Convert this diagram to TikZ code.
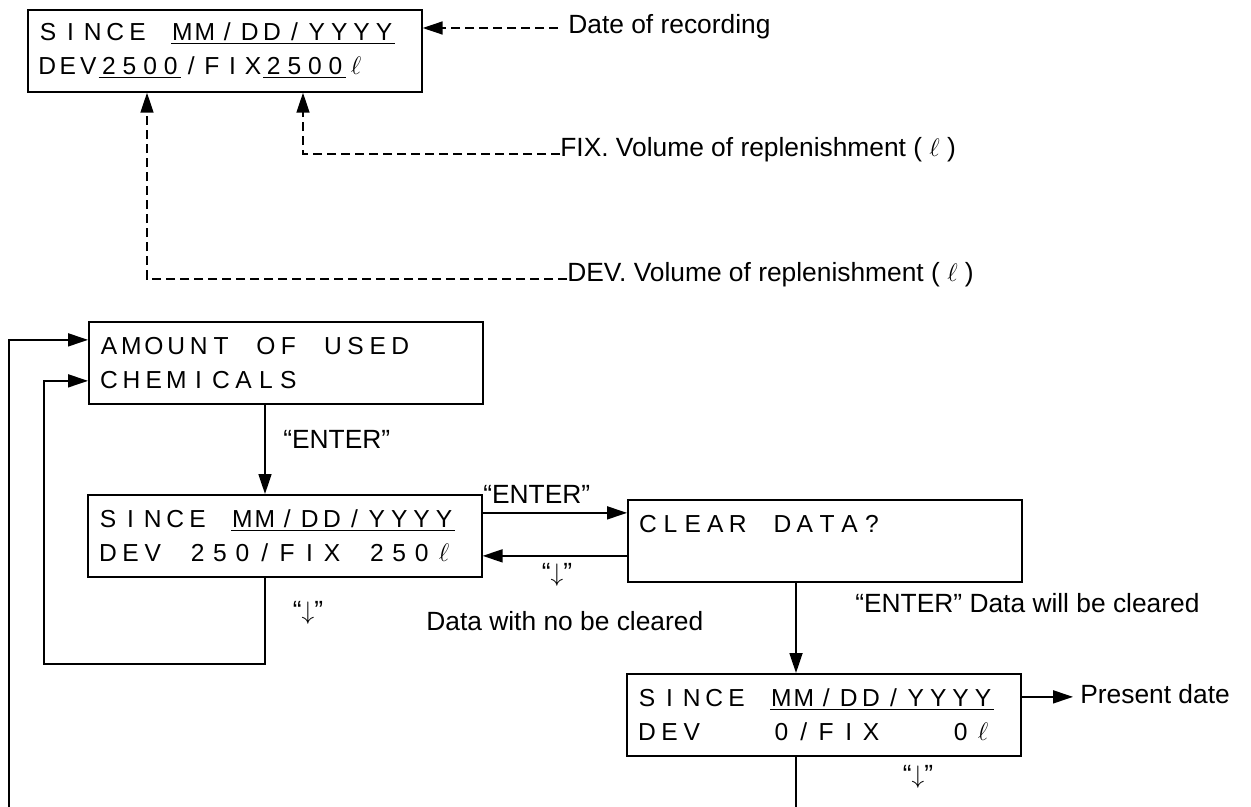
\documentclass[tikz,border=0pt]{standalone}
\usepackage{fontspec}
\setmainfont{Liberation Sans}
\usepackage{tikz}
\usetikzlibrary{arrows.meta,calc,positioning}
\newlength{\px}
\setlength{\px}{0.02cm}
\newlength{\lcdpitch}
\setlength{\lcdpitch}{22.4\px}
\newcommand{\lc}[1]{\makebox[\lcdpitch]{#1}}
\newcommand{\lcdrow}[1]{\lcdnext#1\relax}
\def\lcdnext#1{\ifx#1\relax\else\lc{#1}\expandafter\lcdnext\fi}
\newcommand{\litre}{$\ell$}

\begin{document}
\begin{tikzpicture}[
x=0.02cm,y=-0.02cm,
lcdbox/.style={draw,line width=1pt,anchor=north west,minimum width=7.88cm,minimum height=1.64cm,inner xsep=0.18cm,text width=7.52cm,align=left,font=\fontsize{14}{19.3}\selectfont},
lbl/.style={inner sep=0pt,anchor=base west,font=\fontsize{15}{18}\selectfont},
arr/.style={-{Triangle[length=4mm,width=2.6mm]},line width=1pt},
dasharr/.style={arr,dash pattern=on 1.8mm off 1mm}
]
\useasboundingbox (0,0) rectangle (1251,807);
\node[lcdbox] (rec) at (27,9) {\lcdrow{SINCE~}\underline{\lcdrow{MM/DD/YYYY}}\\\setlength{\lcdpitch}{20.6\px}\lcdrow{DEV}\underline{\lcdrow{2500}}\lcdrow{/FIX}\underline{\lcdrow{2500}}\lcdrow{\litre}};
\node[lcdbox] (amount) at (88,321) {\lcdrow{AMOUNT~OF~USED}\\\lcdrow{CHEMICALS}};
\node[lcdbox] (used) at (87,494) {\lcdrow{SINCE~}\underline{\lcdrow{MM/DD/YYYY}}\\\lcdrow{DEV~250/FIX~250\litre}};
\node[lcdbox] (clear) at (627,499) {\lcdrow{CLEAR~DATA?}\\\mbox{}};
\node[lcdbox] (zero) at (626,673) {\lcdrow{SINCE~}\underline{\lcdrow{MM/DD/YYYY}}\\\lcdrow{DEV~~~0/FIX~~~0\litre}};
% labels
\node[lbl] (date) at (568,34) {Date of recording};
\node[lbl] (fixvol) at (560,157) {FIX. Volume of replenishment ( $\ell$ )};
\node[lbl] (devvol) at (567,282) {DEV. Volume of replenishment ( $\ell$ )};
\node[lbl] (enter1) at (283,448) {“ENTER”};
\node[lbl] (enter2) at (483,503) {“ENTER”};
\node[lbl,anchor=center] (back1) at (557,575) {“$\downarrow$”};
\node[lbl,anchor=center] (back2) at (308,613) {“$\downarrow$”};
\node[lbl,anchor=center] (back3) at (918,777) {“$\downarrow$”};
\node[lbl] (nokeep) at (426,630) {Data with no be cleared};
\node[lbl] (willclear) at (855,612) {“ENTER” Data will be cleared};
\node[lbl,inner xsep=0.14cm] (present) at (1073,703) {Present date};
\coordinate (fixx) at (303,0);
\coordinate (devx) at (147,0);
\coordinate (down) at (265,0);
\coordinate (loop) at (44,664);
\coordinate (outer) at (9,807);
\coordinate (exit) at (796,807);
% dashed pointers
\draw[dasharr] ([xshift=-0.2cm,yshift=0.12cm]date.base west) coordinate (d0) -- (d0 -| rec.east);
\draw[dasharr] ([yshift=0.06cm]fixvol.base west) -| (fixx |- rec.south);
\draw[dasharr] ([yshift=0.06cm]devvol.base west) -| (devx |- rec.south);
% flow
\draw[arr] (down |- amount.south) -- (down |- used.north);
\draw[arr] ([yshift=0.46cm]used.east) coordinate (e0) -- (e0 -| clear.west);
\draw[arr] ([yshift=-0.3cm]clear.west) coordinate (r0) -- (r0 -| used.east);
\draw[arr] (down |- used.south) |- (loop) |- ([yshift=-0.36cm]amount.west);
\draw[arr] (outer) |- ([yshift=0.46cm]amount.west);
\draw[arr] (exit |- clear.south) -- (exit |- zero.north);
\draw[arr] ([yshift=0.36cm]zero.east) coordinate (p0) -- (p0 -| present.west);
\draw[line width=1pt] (exit |- zero.south) -- (exit);
\end{tikzpicture}
\end{document}
